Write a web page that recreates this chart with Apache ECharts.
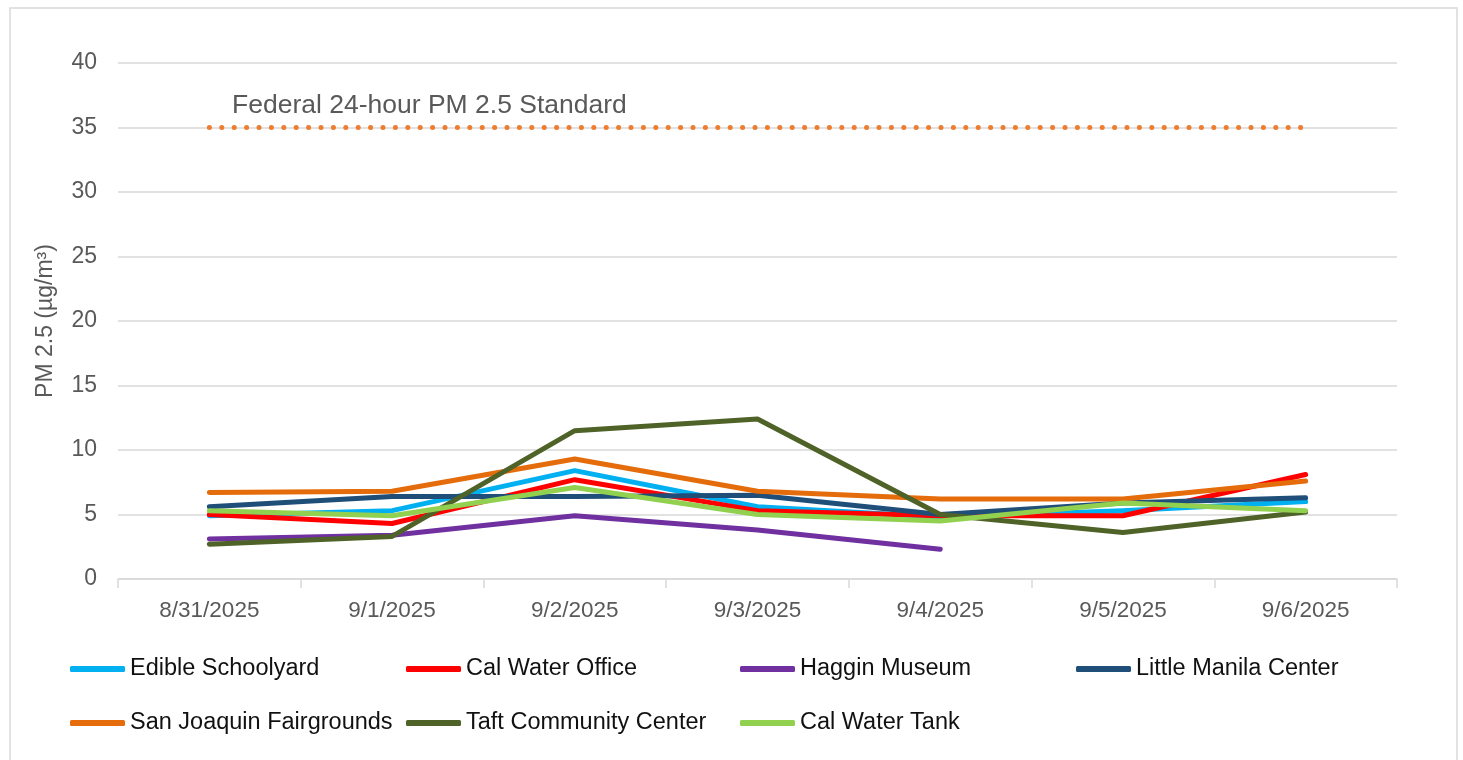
<!DOCTYPE html>
<html lang="en">
<head>
    <meta charset="UTF-8">
    <title>PM 2.5</title>
    <style>
        html, body { margin: 0; padding: 0; background: #fff; }
        #main { width: 1463px; height: 760px; }
    </style>
</head>
<body>
<!-- chart container -->
<div id="main"></div>
<script src="https://cdn.jsdelivr.net/npm/echarts@6/dist/echarts.min.js"></script>
<script>
    // ---------------- data ----------------
    const dates = ['8/31/2025', '9/1/2025', '9/2/2025', '9/3/2025', '9/4/2025', '9/5/2025', '9/6/2025'];
    const yTicks = [0, 5, 10, 15, 20, 25, 30, 35, 40];

    const edibleSchoolyard = [4.9, 5.3, 8.4, 5.6, 4.8, 5.3, 6.0];
    const calWaterOffice = [5.0, 4.3, 7.7, 5.3, 4.9, 4.9, 8.1];
    const hagginMuseum = [3.1, 3.4, 4.9, 3.8, 2.3, null, null];
    const littleManila = [5.6, 6.4, 6.4, 6.5, 5.0, 5.9, 6.3];
    const sanJoaquin = [6.7, 6.8, 9.3, 6.8, 6.2, 6.2, 7.6];
    const taftCenter = [2.7, 3.3, 11.5, 12.4, 5.0, 3.6, 5.2];
    const calWaterTank = [5.3, 4.9, 7.1, 5.0, 4.5, 5.9, 5.3];
    const federalStandard = [35, 35, 35, 35, 35, 35, 35];

    const sites = [
        {name: 'Edible Schoolyard', data: edibleSchoolyard, color: '#00B0F0'},
        {name: 'Cal Water Office', data: calWaterOffice, color: '#FF0000'},
        {name: 'Haggin Museum', data: hagginMuseum, color: '#7030A0'},
        {name: 'Little Manila Center', data: littleManila, color: '#1F4E79'},
        {name: 'San Joaquin Fairgrounds', data: sanJoaquin, color: '#E46C0A'},
        {name: 'Taft Community Center', data: taftCenter, color: '#4F6228'},
        {name: 'Cal Water Tank', data: calWaterTank, color: '#92D050'}
    ];

    // legend slots (excel style grid, 4 per row)
    const legendSlots = [
        [70, 657], [406, 657], [740, 657], [1076, 657],
        [70, 711], [406, 711], [740, 711]
    ];

    const font = '"Liberation Sans", Arial, sans-serif';
    const axisGray = '#595959';
    const gridGray = '#D9D9D9';

    let myChart = echarts.init(document.getElementById('main'));

    let series = sites.map(s => ({
        name: s.name,
        type: 'line',
        data: s.data,
        symbol: 'none',
        showSymbol: false,
        connectNulls: false,
        lineStyle: {width: 5, color: s.color, cap: 'round', join: 'round'},
        itemStyle: {color: s.color},
        emphasis: {disabled: true}
    }));

    // dotted standard line
    series.push({
        name: 'Federal 24-hour PM 2.5 Standard',
        type: 'line',
        data: federalStandard,
        symbol: 'none',
        z: 1,
        lineStyle: {width: 5, color: '#ED7D31', type: [0.1, 12.3], cap: 'round'},
        emphasis: {disabled: true}
    });

    let legends = sites.map((s, i) => ({
        left: legendSlots[i][0],
        top: legendSlots[i][1],
        data: [s.name],
        icon: 'roundRect',
        itemWidth: 55,
        itemHeight: 6,
        itemGap: 0,
        padding: 0,
        selectedMode: false,
        textStyle: {fontFamily: font, fontSize: 23.5, color: '#111', padding: [0, 0, 0, 0]}
    }));

    let option = {
        animation: false,
        backgroundColor: '#fff',
        legend: legends,
        grid: {left: 118, right: 66, top: 63, bottom: 181},
        xAxis: {
            type: 'category',
            data: dates,
            boundaryGap: true,
            axisLine: {lineStyle: {color: gridGray, width: 1.5}},
            axisTick: {show: true, length: 9, lineStyle: {color: gridGray, width: 1.5}},
            axisLabel: {fontFamily: font, fontSize: 22.5, color: axisGray, margin: 20}
        },
        yAxis: {
            type: 'value',
            min: yTicks[0],
            max: yTicks[yTicks.length - 1],
            interval: 5,
            name: 'PM 2.5 (µg/m³)',
            nameLocation: 'middle',
            nameRotate: 90,
            nameGap: 61,
            nameTextStyle: {fontFamily: font, fontSize: 23, color: axisGray},
            axisLine: {show: false},
            axisTick: {show: false},
            axisLabel: {fontFamily: font, fontSize: 23, color: axisGray, margin: 21},
            splitLine: {lineStyle: {color: gridGray, width: 1.5}}
        },
        graphic: [
            {
                // outer chart border
                type: 'rect',
                z: -10,
                shape: {x: 10, y: 8, width: 1447, height: 800},
                style: {fill: 'none', stroke: gridGray, lineWidth: 1.5}
            },
            {
                type: 'text',
                left: 232,
                top: 92,
                style: {
                    text: 'Federal 24-hour PM 2.5 Standard',
                    font: '26.5px ' + font,
                    fill: axisGray
                }
            }
        ],
        series: series
    };

    myChart.setOption(option);
</script>
</body>
</html>
